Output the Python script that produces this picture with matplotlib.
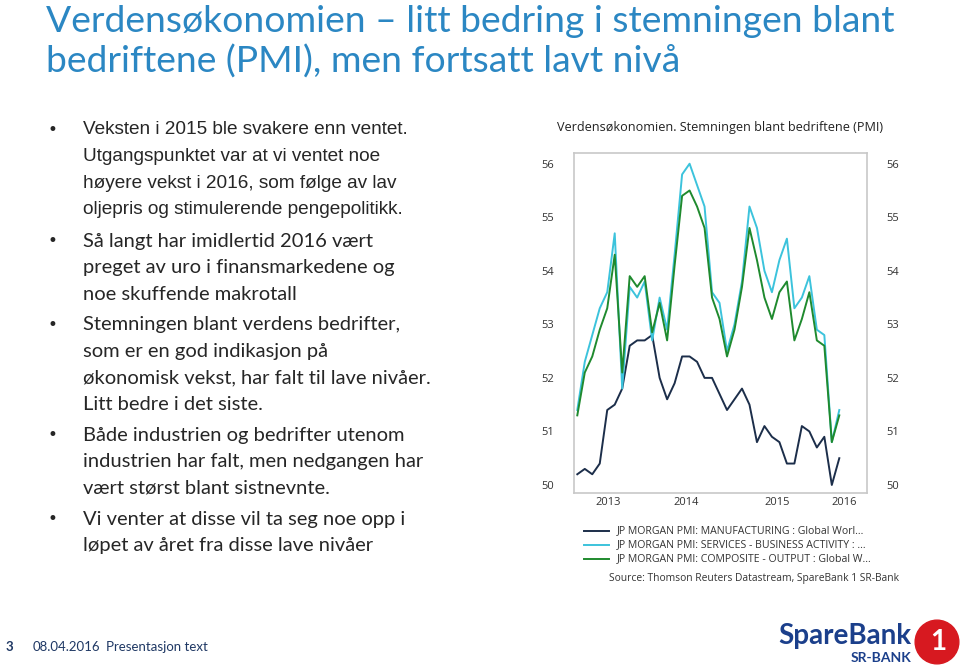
import matplotlib
matplotlib.use("Agg")
import matplotlib.pyplot as plt
from matplotlib.patches import Circle

W, H = 960, 669

# ---- data ----
manufacturing = [50.2, 50.3, 50.2, 50.4, 51.4, 51.5, 51.8, 52.6, 52.7, 52.7, 52.8, 52.0,
                 51.6, 51.9, 52.4, 52.4, 52.3, 52.0, 52.0, 51.7, 51.4, 51.6, 51.8, 51.5,
                 50.8, 51.1, 50.9, 50.8, 50.4, 50.4, 51.1, 51.0, 50.7, 50.9, 50.0, 50.5]
services = [51.4, 52.3, 52.8, 53.3, 53.6, 54.7, 51.8, 53.7, 53.5, 53.8, 52.7, 53.5,
            52.9, 54.3, 55.8, 56.0, 55.6, 55.2, 53.6, 53.4, 52.5, 53.0, 53.8, 55.2,
            54.8, 54.0, 53.6, 54.2, 54.6, 53.3, 53.5, 53.9, 52.9, 52.8, 50.8, 51.4]
composite = [51.3, 52.1, 52.4, 52.9, 53.3, 54.3, 52.1, 53.9, 53.7, 53.9, 52.85, 53.4,
             52.7, 54.1, 55.4, 55.5, 55.2, 54.8, 53.5, 53.1, 52.4, 52.9, 53.7, 54.8,
             54.2, 53.5, 53.1, 53.6, 53.8, 52.7, 53.1, 53.6, 52.7, 52.6, 50.8, 51.3]
year_labels = ["2013", "2014", "2015", "2016"]
year_pos = [4.1, 14.6, 26.7, 35.6]
y_ticks = [50, 51, 52, 53, 54, 55, 56]
legend_labels = ["JP MORGAN PMI: MANUFACTURING : Global Worl…",
                 "JP MORGAN PMI: SERVICES - BUSINESS ACTIVITY : …",
                 "JP MORGAN PMI: COMPOSITE - OUTPUT : Global W…"]
colors = ["#1C2E4A", "#3CC3DC", "#1F8A2E"]

title_lines = ["Verdensøkonomien – litt bedring i stemningen blant",
               "bedriftene (PMI), men fortsatt lavt nivå"]
bullets = [
    (["Veksten i 2015 ble svakere enn ventet.",
      "Utgangspunktet var at vi ventet noe",
      "høyere vekst i 2016, som følge av lav",
      "oljepris og stimulerende pengepolitikk."], 130, "Liberation Sans"),
    (["Så langt har imidlertid 2016 vært",
      "preget av uro i finansmarkedene og",
      "noe skuffende makrotall"], 241, "Lato"),
    (["Stemningen blant verdens bedrifter,",
      "som er en god indikasjon på",
      "økonomisk vekst, har falt til lave nivåer.",
      "Litt bedre i det siste."], 325, "Lato"),
    (["Både industrien og bedrifter utenom",
      "industrien har falt, men nedgangen har",
      "vært størst blant sistnevnte."], 435, "Lato"),
    (["Vi venter at disse vil ta seg noe opp i",
      "løpet av året fra disse lave nivåer"], 519, "Lato"),
]

fig = plt.figure(figsize=(W / 100, H / 100), dpi=100)

def fx(x):
    return x / W

def fy(y):
    return 1 - y / H

# title
title_color = "#2B87C3"
for i, line in enumerate(title_lines):
    fig.text(fx(46), fy(22 + 40 * i), line, fontsize=26.8, color=title_color,
             family="Lato", va="center", ha="left")

# bullets
text_color = "#262626"
for lines, y0, fam in bullets:
    fig.text(fx(47), fy(y0), "•", fontsize=12, color=text_color, va="center", ha="left",
             family="DejaVu Sans")
    step = 26.6
    for j, line in enumerate(lines):
        fs = 13.7 if fam == "Liberation Sans" else 14.5
        fig.text(fx(83), fy(y0 + step * j), line, fontsize=fs, color=text_color,
                 family=fam, va="center", ha="left")

# chart axes
left, right, top, bottom = 574, 867, 153, 493
ax = fig.add_axes([fx(left), fy(bottom), (right - left) / W, (bottom - top) / H])
x = list(range(len(manufacturing)))
for series, c in zip([manufacturing, services, composite], colors):
    ax.plot(x, series, color=c, lw=1.4)
ax.set_xlim(-0.44, 38.7)
ax.set_ylim(49.85, 56.2)
ax.set_yticks(y_ticks)
ax.set_yticklabels([str(v) for v in y_ticks])
ax.tick_params(axis="y", length=0, labelsize=8, labelcolor="#333333", pad=14,
               left=True, right=True, labelleft=True, labelright=True)
ax.set_xticks(year_pos)
ax.set_xticklabels(year_labels)
ax.tick_params(axis="x", length=0, labelsize=8, labelcolor="#333333", pad=3)
for s in ax.spines.values():
    s.set_color("#C8C8C8")
    s.set_linewidth(1.2)
for lbl in ax.get_xticklabels() + ax.get_yticklabels():
    lbl.set_family("Open Sans")

# chart title
fig.text(fx(720), fy(128), "Verdensøkonomien. Stemningen blant bedriftene (PMI)",
         fontsize=9.1, color="#222222", family="Open Sans", ha="center", va="center")

# legend
for i, (lab, c) in enumerate(zip(legend_labels, colors)):
    yy = 531 + 14 * i
    fig.add_artist(plt.Line2D([fx(584), fx(609)], [fy(yy), fy(yy)], color=c, lw=1.4,
                              transform=fig.transFigure))
    fig.text(fx(617), fy(yy), lab, fontsize=7.6, color="#333333", family="Open Sans",
             ha="left", va="center")
fig.text(fx(609), fy(579), "Source: Thomson Reuters Datastream, SpareBank 1 SR-Bank",
         fontsize=7.4, color="#333333", family="Open Sans", ha="left", va="center")

# footer
navy = "#1F3864"
fig.text(fx(6), fy(647), "3", fontsize=9.5, weight="bold", color=navy, family="Lato",
         va="center")
fig.text(fx(33), fy(647), "08.04.2016", fontsize=9.5, color=navy, family="Lato", va="center")
fig.text(fx(106), fy(647), "Presentasjon text", fontsize=9.5, color=navy, family="Lato",
         va="center")

# logo
fig.text(fx(778), fy(636), "SpareBank", fontsize=20, weight="bold", color="#1B3F8B",
         family="Lato", va="center", ha="left")
fig.text(fx(911), fy(658), "SR-BANK", fontsize=10, weight="bold", color="#1B3F8B",
         family="Lato", va="center", ha="right")
logo_ax = fig.add_axes([fx(914), fy(665), 46 / W, 46 / H])
logo_ax.set_xlim(-1, 1)
logo_ax.set_ylim(-1, 1)
logo_ax.set_aspect("equal")
logo_ax.axis("off")
logo_ax.add_patch(Circle((0, 0), 0.95, color="#D71920"))
logo_ax.text(0.05, -0.02, "1", fontsize=20, weight="bold", color="white", ha="center",
             va="center", family="Lato")

fig.savefig("out.png", dpi=100)
